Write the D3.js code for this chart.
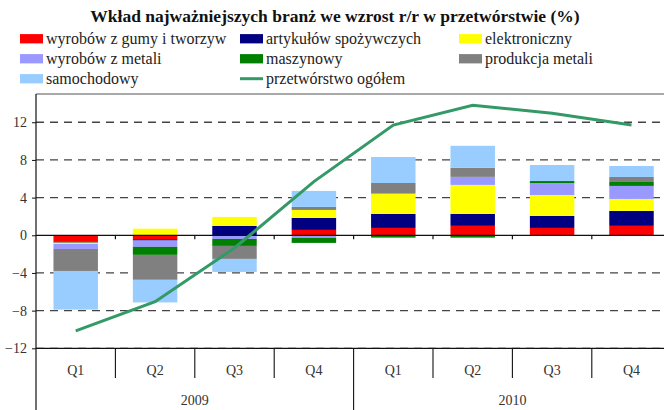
<!DOCTYPE html>
<html>
<head>
<meta charset="utf-8">
<script src="https://cdn.jsdelivr.net/npm/d3@7"></script>
<style>
  body { margin: 0; background: #fff; }
</style>
</head>
<body>
<svg id="chart" width="664" height="410"></svg>
<script>
// categories
const quarters = ['Q1', 'Q2', 'Q3', 'Q4', 'Q1', 'Q2', 'Q3', 'Q4'];
const years = ['2009', '2010'];
const yTicks = [-12, -8, -4, 0, 4, 8, 12];

// series (stack order = legend order)
const seriesNames = [
  'wyrobów z gumy i tworzyw',
  'artykułów spożywczych',
  'elektroniczny',
  'wyrobów z metali',
  'maszynowy',
  'produkcja metali',
  'samochodowy'
];
const gumy       = [-0.70, -0.42, 0.00, 0.57, 0.78, 1.00, 0.78, 1.00];
const spozywcze  = [-0.08, -0.14, 1.00, 1.27, 1.49, 1.27, 1.27, 1.59];
const elektro    = [-0.14,  0.70, 0.95, 0.85, 2.12, 3.08, 2.23, 1.27];
const wyrMetali  = [-0.53, -0.67, -0.39, -0.28, 0.10, 0.85, 1.27, 1.38];
const maszynowy  = [ 0.00, -0.85, -0.74, -0.53, -0.25, -0.25, 0.21, 0.42];
const prodMetali = [-2.34, -2.65, -1.38, 0.32, 1.06, 0.96, 0.00, 0.53];
const samochody  = [-4.10, -2.40, -1.38, 1.70, 2.76, 2.34, 1.70, 1.17];
const ogolem     = [-10.15, -7.05, -1.35, 5.70, 11.70, 13.80, 12.95, 11.70];
const lineName = 'przetwórstwo ogółem';

const colors = ['#ff0000', '#000080', '#ffff00', '#9999ff', '#008000', '#808080', '#99ccff'];
const lineColor = '#339966';
const serif = '"Liberation Serif", "Times New Roman", "DejaVu Serif", serif';

const allSeries = [gumy, spozywcze, elektro, wyrMetali, maszynowy, prodMetali, samochody];

let rows = quarters.map((q, i) => {
  let r = { i: i };
  seriesNames.forEach((n, k) => { r[n] = allSeries[k][i]; });
  return r;
});

let svg = d3.select('#chart').attr('font-family', serif);

let plotLeft = 36, plotRight = 671.2, plotTop = 94, plotBottom = 348.3;

let x = d3.scaleBand()
  .domain(d3.range(quarters.length))
  .range([plotLeft, plotRight])
  .paddingInner(0.44)
  .paddingOuter(0.22);

let step = (plotRight - plotLeft) / quarters.length;

let y = d3.scaleLinear()
  .domain([-12, 15])
  .range([plotBottom, plotTop]);

// title
svg.append('text')
  .attr('x', 335)
  .attr('y', 22)
  .attr('font-family', serif)
  .attr('text-anchor', 'middle')
  .attr('font-weight', 'bold')
  .attr('font-size', 17.5)
  .attr('fill', '#111')
  .text('Wkład najważniejszych branż we wzrost r/r w przetwórstwie (%)');

// legend
let legendItems = seriesNames.map((n, k) => ({ name: n, color: colors[k], line: false }));
legendItems.push({ name: lineName, color: lineColor, line: true });
let colX = [20, 240, 459];

let legend = svg.append('g').attr('class', 'legend');
legendItems.forEach((d, k) => {
  let cx = colX[k % 3];
  let cy = 38.7 + Math.floor(k / 3) * 20;
  if (d.line) {
    legend.append('line')
      .attr('x1', cx).attr('x2', cx + 23)
      .attr('y1', cy).attr('y2', cy)
      .attr('stroke', d.color)
      .attr('stroke-width', 3);
  } else {
    legend.append('rect')
      .attr('x', cx).attr('y', cy - 4.6)
      .attr('width', 23).attr('height', 9.3)
      .attr('fill', d.color);
  }
  legend.append('text')
    .attr('x', cx + 26)
    .attr('y', cy + 5)
    .attr('font-family', serif)
    .attr('font-size', 16)
    .attr('fill', '#222')
    .text(d.name);
});

// grid
let grid = svg.append('g').attr('class', 'grid');
grid.selectAll('line')
  .data(yTicks.filter(t => t !== 0))
  .enter().append('line')
  .attr('x1', plotLeft).attr('x2', 664)
  .attr('y1', d => y(d)).attr('y2', d => y(d))
  .attr('stroke', '#444')
  .attr('stroke-width', 1.3)
  .attr('stroke-dasharray', '8,6');

// plot top border
svg.append('line')
  .attr('x1', plotLeft).attr('x2', 664)
  .attr('y1', plotTop).attr('y2', plotTop)
  .attr('stroke', '#555')
  .attr('stroke-width', 1.2);

// bars
let stack = d3.stack()
  .keys(seriesNames)
  .offset(d3.stackOffsetDiverging);

let stacked = stack(rows);

let bars = svg.append('g').attr('class', 'bars');
stacked.forEach((layer, k) => {
  bars.append('g')
    .attr('fill', colors[k])
    .selectAll('rect')
    .data(layer)
    .enter().append('rect')
    .attr('x', d => x(d.data.i))
    .attr('width', x.bandwidth())
    .attr('y', d => y(Math.max(d[0], d[1])))
    .attr('height', d => Math.abs(y(d[0]) - y(d[1])));
});

// zero line with ticks
svg.append('line')
  .attr('x1', plotLeft).attr('x2', 664)
  .attr('y1', y(0)).attr('y2', y(0))
  .attr('stroke', '#111')
  .attr('stroke-width', 1.3);

svg.append('g').selectAll('line')
  .data(d3.range(1, quarters.length))
  .enter().append('line')
  .attr('x1', d => plotLeft + d * step).attr('x2', d => plotLeft + d * step)
  .attr('y1', y(0)).attr('y2', y(0) + 4)
  .attr('stroke', '#111')
  .attr('stroke-width', 1.2);

// left axis
let yAxis = d3.axisLeft(y)
  .tickValues(yTicks)
  .tickSize(4)
  .tickPadding(5)
  .tickFormat(d3.format('d'));

let ya = svg.append('g')
  .attr('transform', `translate(${plotLeft},0)`)
  .call(yAxis)
  .attr('font-family', serif)
  .attr('font-size', 14);
ya.select('.domain').remove();
ya.selectAll('line').attr('stroke', '#111');
ya.selectAll('text').attr('fill', '#333');

svg.append('line')
  .attr('x1', plotLeft).attr('x2', plotLeft)
  .attr('y1', plotTop).attr('y2', 410)
  .attr('stroke', '#111')
  .attr('stroke-width', 1.2);

// bottom axis
svg.append('line')
  .attr('x1', plotLeft).attr('x2', 664)
  .attr('y1', plotBottom).attr('y2', plotBottom)
  .attr('stroke', '#111')
  .attr('stroke-width', 1.2);

let xa = svg.append('g').attr('class', 'xaxis')
  .attr('font-family', serif)
  .attr('font-size', 14)
  .attr('fill', '#333');
xa.selectAll('.sep')
  .data(d3.range(1, quarters.length))
  .enter().append('line')
  .attr('x1', d => plotLeft + d * step).attr('x2', d => plotLeft + d * step)
  .attr('y1', plotBottom)
  .attr('y2', d => d % 4 === 0 ? 410 : 378)
  .attr('stroke', '#111')
  .attr('stroke-width', 1.1);

xa.selectAll('.q')
  .data(quarters)
  .enter().append('text')
  .attr('x', (d, i) => x(i) + x.bandwidth() / 2)
  .attr('y', 375)
  .attr('text-anchor', 'middle')
  .text(d => d);

xa.selectAll('.yr')
  .data(years)
  .enter().append('text')
  .attr('x', (d, i) => plotLeft + (i * 4 + 2) * step)
  .attr('y', 405)
  .attr('text-anchor', 'middle')
  .text(d => d);

// total line
let line = d3.line()
  .x((d, i) => x(i) + x.bandwidth() / 2)
  .y(d => y(d));

svg.append('path')
  .datum(ogolem)
  .attr('fill', 'none')
  .attr('stroke', lineColor)
  .attr('stroke-width', 3)
  .attr('d', line);
</script>
</body>
</html>
